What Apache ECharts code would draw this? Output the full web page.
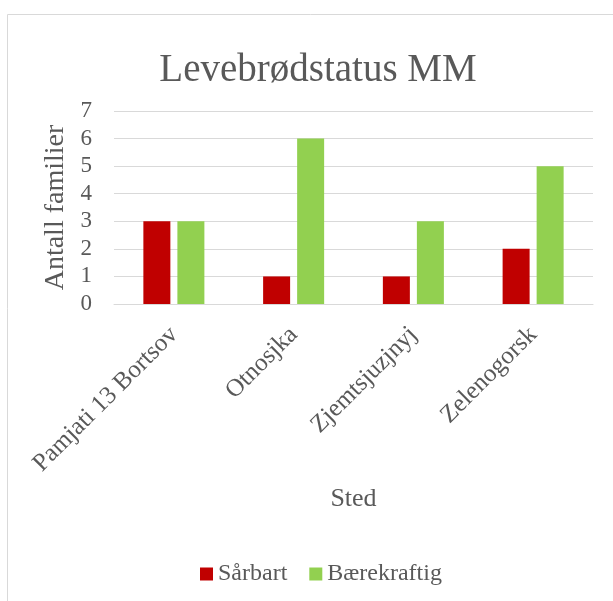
<!DOCTYPE html>
<html>
<head>
<meta charset="utf-8">
<script src="https://cdn.jsdelivr.net/npm/echarts@6/dist/echarts.min.js"></script>
<style>
  html, body { margin: 0; padding: 0; background: #fff; }
  #chart { width: 613px; height: 601px; }
</style>
</head>
<body>
<div id="chart"></div>
<script>
// data
const steder = ['Pamjati 13 Bortsov', 'Otnosjka', 'Zjemtsjuzjnyj', 'Zelenogorsk']
const sarbart = [3, 1, 1, 2]
const baerekraftig = [3, 6, 3, 5]
const yTicks = [0, 1, 2, 3, 4, 5, 6, 7]

const font = 'Liberation Serif'
const grey = '#595959'

let mychart = echarts.init(document.getElementById('chart'))
mychart.setOption({
  animation: false,
  textStyle: { fontFamily: font },
  //ramme rundt diagrammet
  graphic: [{
    type: 'rect',
    shape: { x: 7.5, y: 14.5, width: 700, height: 700 },
    style: { fill: 'none', stroke: '#D9D9D9', lineWidth: 1 },
    silent: true,
  }],
  title: {
    text: 'Levebrødstatus MM',
    left: 313,
    textAlign: 'center',
    top: 46,
    textStyle: { fontFamily: font, fontSize: 39, fontWeight: 'normal', color: grey },
  },
  legend: {
    left: 195,
    top: 557,
    itemWidth: 13,
    itemHeight: 13,
    itemGap: 22,
    icon: 'rect',
    textStyle: { fontFamily: 'serif', fontSize: 24, fontWeight: 'normal', color: grey },
    data: ['Sårbart', 'Bærekraftig'],
  },
  grid: { left: 114, right: 20, top: 111, bottom: 297 },
  xAxis: {
    type: 'category',
    data: steder,
    name: 'Sted',
    nameLocation: 'middle',
    nameGap: 182,
    nameTextStyle: { fontFamily: font, fontSize: 26, color: grey },
    axisLine: { show: true, lineStyle: { color: '#D9D9D9' } },
    axisTick: { show: false },
    axisLabel: { rotate: 45, margin: 27, fontFamily: font, fontSize: 25, color: grey },
  },
  yAxis: {
    type: 'value',
    min: yTicks[0],
    max: yTicks[yTicks.length - 1],
    interval: 1,
    name: 'Antall familier',
    nameLocation: 'middle',
    nameGap: 42,
    nameTextStyle: { fontFamily: font, fontSize: 28, color: grey },
    axisLine: { show: false },
    axisTick: { show: false },
    splitLine: { lineStyle: { color: '#D9D9D9' } },
    axisLabel: { margin: 22, fontFamily: font, fontSize: 23, color: grey },
  },
  series: [
    {
      name: 'Sårbart',
      type: 'bar',
      data: sarbart,
      barWidth: 27,
      barGap: '26%',
      itemStyle: { color: '#C00000' },
    },
    {
      name: 'Bærekraftig',
      type: 'bar',
      data: baerekraftig,
      barWidth: 27,
      itemStyle: { color: '#92D050' },
    },
  ],
})
</script>
</body>
</html>
